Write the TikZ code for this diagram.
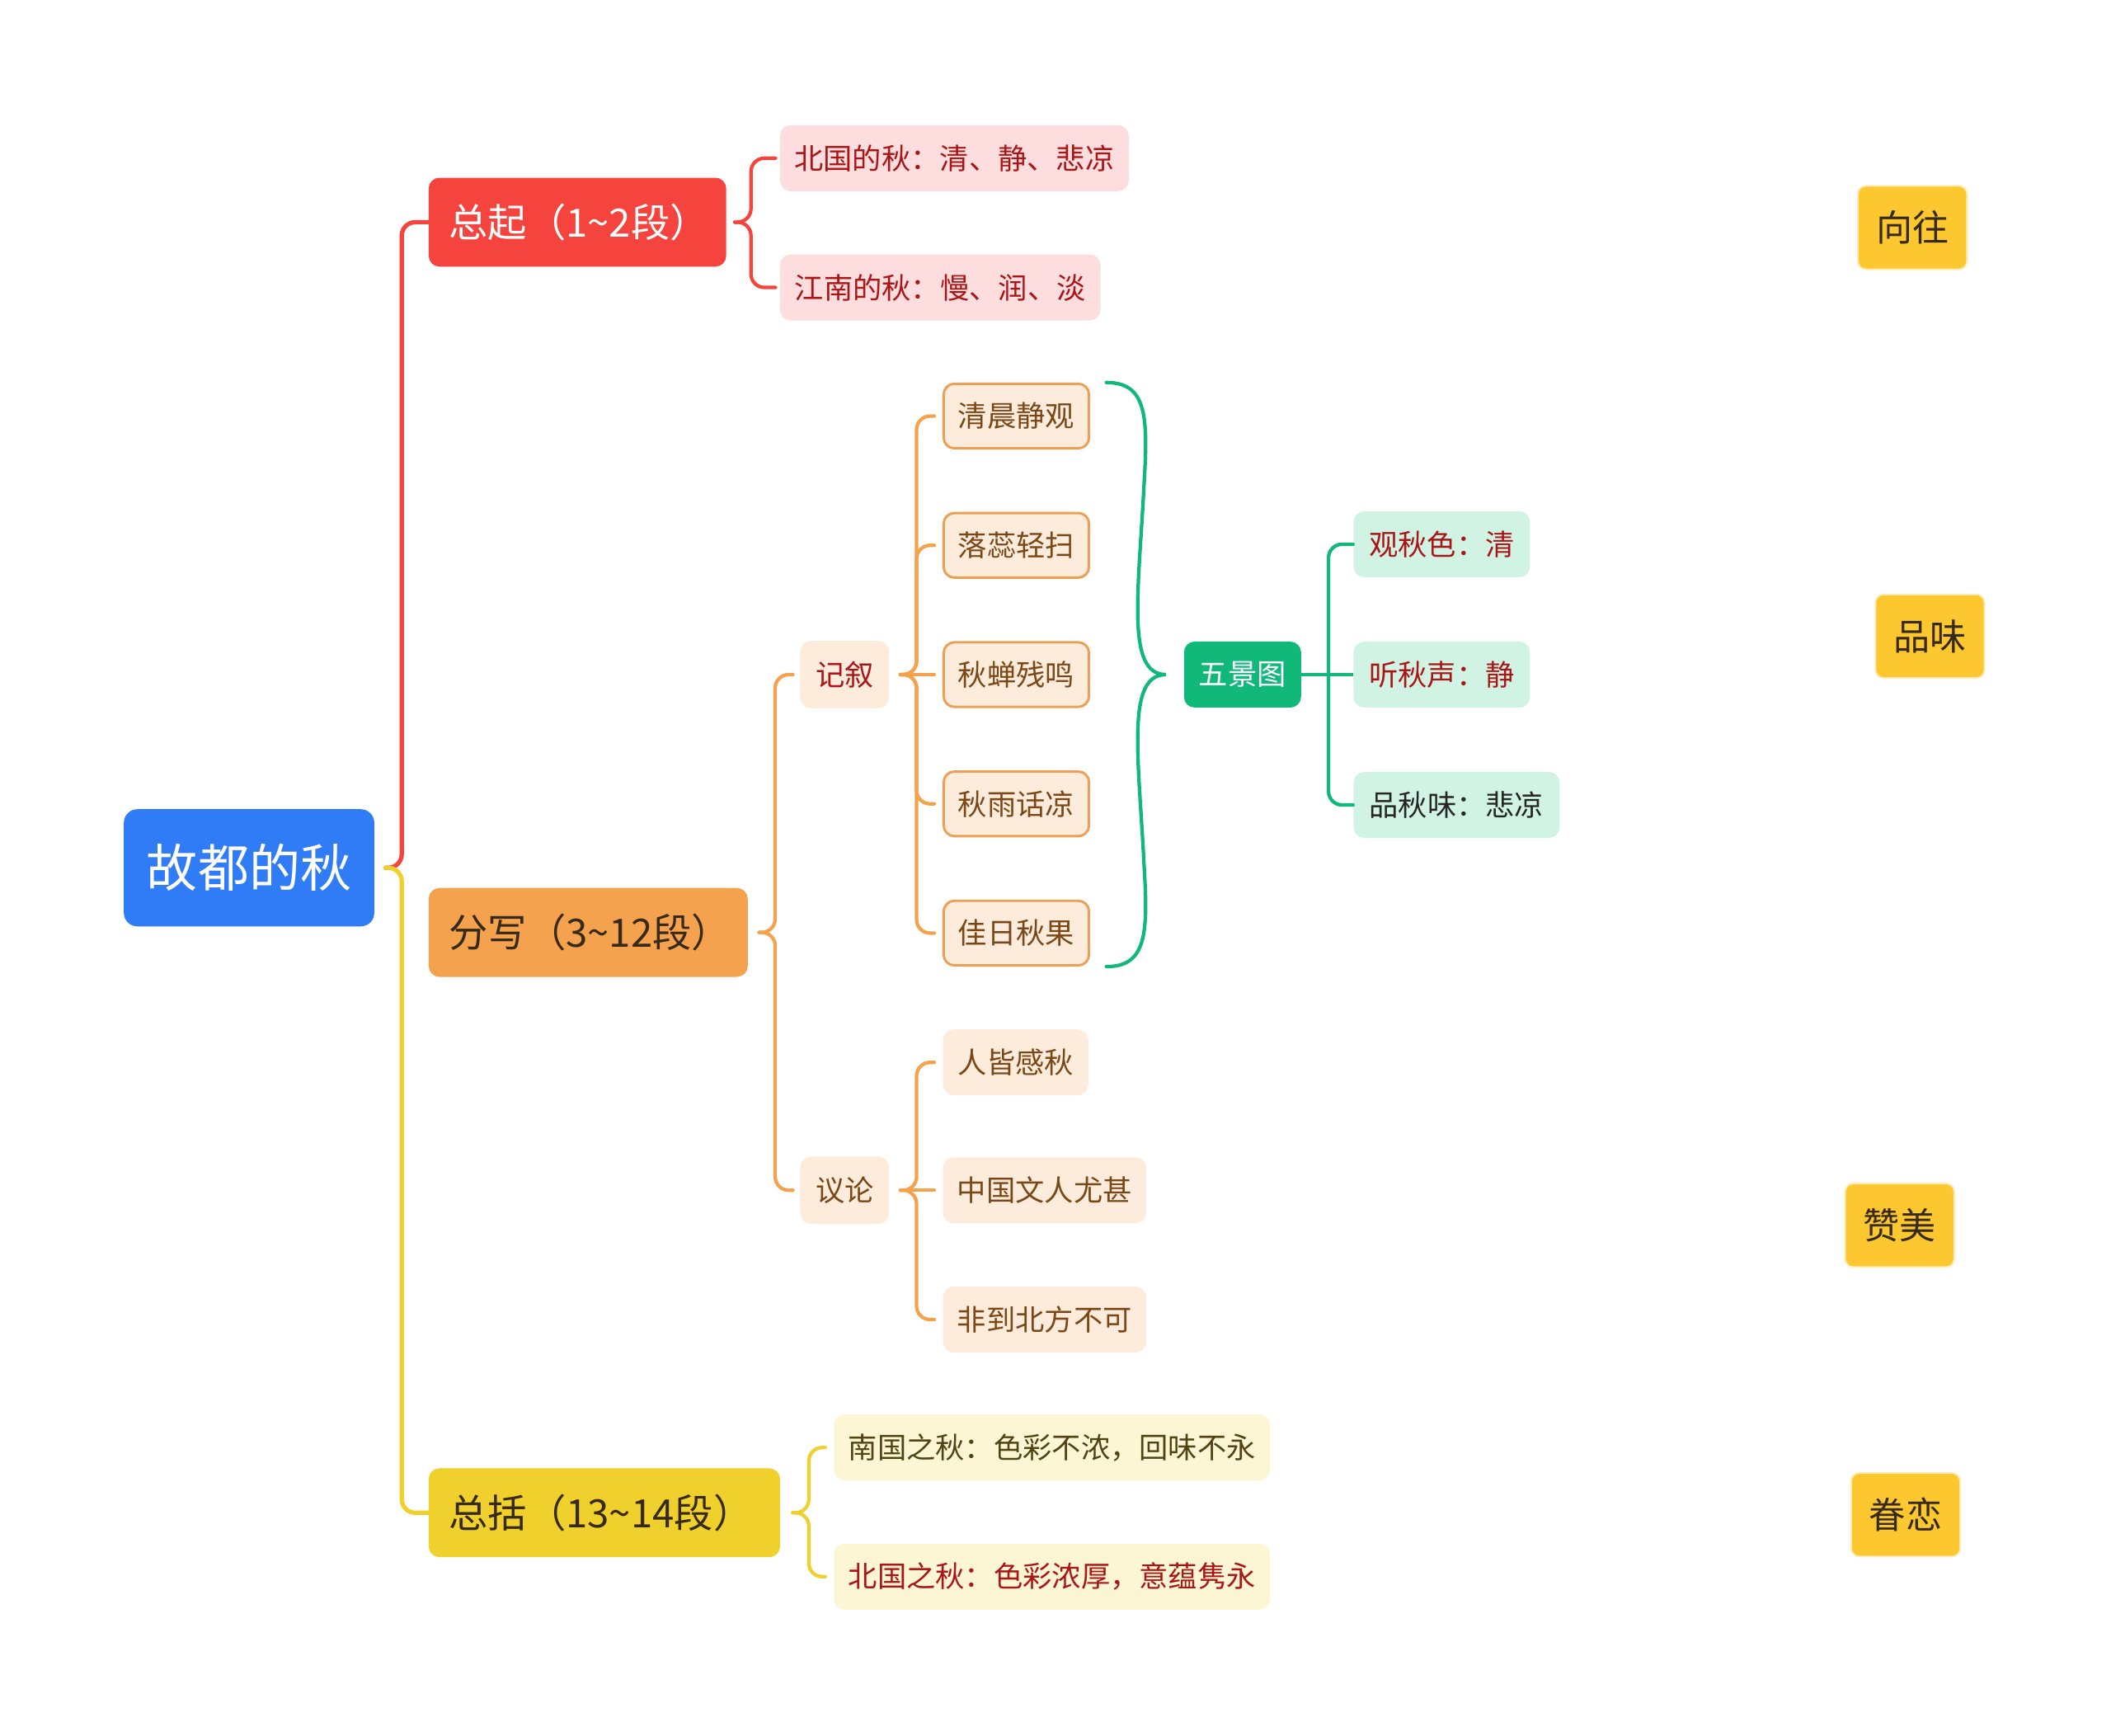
\documentclass[tikz,border=0pt]{standalone}
\usepackage{fontspec}
\setmainfont{Noto Sans CJK SC}
\usepackage{tikz}
\usetikzlibrary{positioning,calc}
\definecolor{rootcol}{RGB}{47,124,246}
\definecolor{redcol}{RGB}{245,67,61}
\definecolor{orangecol}{RGB}{245,162,79}
\definecolor{yellowcol}{RGB}{240,208,44}
\definecolor{greencol}{RGB}{16,184,122}
\definecolor{tagcol}{RGB}{252,199,47}
\definecolor{pinkfill}{RGB}{253,221,221}
\definecolor{peachfill}{RGB}{253,235,220}
\definecolor{mintfill}{RGB}{208,243,228}
\definecolor{creamfill}{RGB}{253,246,212}
\definecolor{peachline}{RGB}{236,160,85}
\definecolor{darkred}{RGB}{170,22,24}
\definecolor{browntext}{RGB}{122,72,22}
\definecolor{olivetext}{RGB}{80,68,20}
\definecolor{darktext}{RGB}{55,42,25}
\newcommand{\rootsize}{\fontsize{19}{22}\selectfont}
\newcommand{\topicsize}{\fontsize{14.5}{17}\selectfont}
\newcommand{\tagsize}{\fontsize{13.5}{16}\selectfont}
\newcommand{\leafsize}{\fontsize{10.8}{13}\selectfont}
\tikzset{
  rootbox/.style={fill=rootcol,text=white,rounded corners=5pt,minimum width=93pt,
    minimum height=43.5pt,inner sep=0pt,font=\rootsize},
  topicbox/.style={rounded corners=4pt,minimum height=33pt,inner ysep=0pt,inner xsep=7.5pt,
    align=left,font=\topicsize,anchor=west},
  leafbox/.style={rounded corners=4pt,minimum height=24.5pt,inner sep=0pt,
    font=\leafsize,anchor=west},
  scenebox/.style={leafbox,fill=peachfill,draw=peachline,line width=0.9pt,
    text=browntext,minimum width=54pt,minimum height=24pt},
  tagbox/.style={fill=tagcol,draw=tagcol!35,line width=0.6pt,rounded corners=3pt,
    minimum width=40.5pt,minimum height=31pt,inner sep=0pt,font=\tagsize,text=darktext},
  link/.style={line width=1.3pt,rounded corners=5pt,line cap=round}
}
\begin{document}
\begin{tikzpicture}[x=0.5pt,y=-0.5pt]
  \useasboundingbox (0,0) rectangle (1568,1289);
  \node[rootbox] (root) at (185,644.5) {故都的秋};
  % first branch
  \node[topicbox,fill=redcol,text=white,text width=95.5pt] (intro) at (318,165) {总起（1\textasciitilde2段）};
  \node[leafbox,fill=pinkfill,text=darkred,minimum width=129.5pt] (north) at (579,117.5) {北国的秋：清、静、悲凉};
  \node[leafbox,fill=pinkfill,text=darkred,minimum width=119pt] (south) at (579,213.5) {江南的秋：慢、润、淡};
  % second branch
  \node[topicbox,fill=orangecol,text=darktext,text width=103.5pt] (detail) at (318,692.5) {分写（3\textasciitilde12段）};
  \node[leafbox,fill=peachfill,text=darkred,minimum width=33pt,minimum height=25pt] (narr) at (594,501) {记叙};
  \node[leafbox,fill=peachfill,text=browntext,minimum width=33pt,minimum height=25pt] (disc) at (594,884) {议论};
  \node[scenebox] (s1) at (700,309) {清晨静观};
  \node[scenebox] (s2) at (700,405) {落蕊轻扫};
  \node[scenebox] (s3) at (700,501) {秋蝉残鸣};
  \node[scenebox] (s4) at (700,597) {秋雨话凉};
  \node[scenebox] (s5) at (700,693) {佳日秋果};
  \node[leafbox,fill=greencol,text=white,minimum width=43.5pt] (scenes) at (879,501) {五景图};
  \node[leafbox,fill=mintfill,text=darkred,minimum width=65.5pt] (sound) at (1005,501) {听秋声：静};
  \node[leafbox,fill=mintfill,text=darkred,minimum width=65.5pt,above=23.5pt of sound.north west,anchor=south west] (color) {观秋色：清};
  \node[leafbox,fill=mintfill,text=black!85,minimum width=76.5pt,below=23.5pt of sound.south west,anchor=north west] (taste) {品秋味：悲凉};
  \node[leafbox,fill=peachfill,text=browntext,minimum width=54pt] (d1) at (700,789) {人皆感秋};
  \node[leafbox,fill=peachfill,text=browntext,minimum width=75.5pt] (d2) at (700,884) {中国文人尤甚};
  \node[leafbox,fill=peachfill,text=browntext,minimum width=75.5pt] (d3) at (700,980) {非到北方不可};
  % third branch
  \node[topicbox,fill=yellowcol,text=darktext,text width=115.5pt] (summ) at (318,1123.5) {总括（13\textasciitilde14段）};
  \node[leafbox,fill=creamfill,text=olivetext,minimum width=162pt] (sum1) at (619,1075) {南国之秋：色彩不浓，回味不永};
  \node[leafbox,fill=creamfill,text=darkred,minimum width=162pt] (sum2) at (619,1171) {北国之秋：色彩浓厚，意蕴隽永};
  % free tags
  \node[tagbox] (yearn) at (1420.5,169) {向往};
  \node[tagbox] (savor) at (1433.5,472.5) {品味};
  \node[tagbox] (praise) at (1411,910) {赞美};
  \node[tagbox] (attach) at (1415.5,1125) {眷恋};
  % root links
  \coordinate (rj) at ($(root.east)+(8,0)$);
  \draw[link,redcol,line width=1.6pt] (rj) -- ++(12,0) |- (intro.west);
  \draw[link,yellowcol,line width=1.6pt] (rj) -- ++(12,0) |- (summ.west);
  % braces
  \coordinate (ij) at ($(intro.east)+(6,0)$);
  \draw[link,redcol] (ij) -- ++(12,0) |- ($(north.west)+(-3,0)$);
  \draw[link,redcol] (ij) -- ++(12,0) |- ($(south.west)+(-3,0)$);
  \coordinate (dj) at ($(detail.east)+(8,0)$);
  \draw[link,orangecol] (dj) -- ++(12,0) |- ($(narr.west)+(-5,0)$);
  \draw[link,orangecol] (dj) -- ++(12,0) |- ($(disc.west)+(-5,0)$);
  \coordinate (nj) at ($(narr.east)+(8,0)$);
  \draw[link,orangecol] (nj) -- ++(12,0) |- ($(s1.west)+(-6,0)$);
  \draw[link,orangecol] (nj) -- ++(12,0) |- ($(s2.west)+(-6,0)$);
  \draw[link,orangecol] (nj) -- ++(12,0) |- ($(s4.west)+(-6,0)$);
  \draw[link,orangecol] (nj) -- ++(12,0) |- ($(s5.west)+(-6,0)$);
  \draw[link,orangecol] (nj) -- ($(s3.west)+(-6,0)$);
  \coordinate (qj) at ($(disc.east)+(8,0)$);
  \draw[link,orangecol] (qj) -- ++(12,0) |- ($(d1.west)+(-6,0)$);
  \draw[link,orangecol] (qj) -- ++(12,0) |- ($(d3.west)+(-6,0)$);
  \draw[link,orangecol] (qj) -- ($(d2.west)+(-6,0)$);
  \coordinate (sj) at ($(summ.east)+(9,0)$);
  \draw[link,yellowcol] (sj) -- ++(12,0) |- ($(sum1.west)+(-6,0)$);
  \draw[link,yellowcol] (sj) -- ++(12,0) |- ($(sum2.west)+(-6,0)$);
  % five scenes brace
  \coordinate (gtop) at ($(s1.north east)+(12,0)$);
  \coordinate (gbot) at ($(s5.south east)+(12,0)$);
  \coordinate (gtip) at ($(scenes.west)+(-13,0)$);
  \draw[greencol,line width=1.3pt,line cap=round]
    (gtop) .. controls +(30,0) and +(3,-50) .. ($(gtop)+(28,75)$)
    .. controls +(-4,80) and +(-30,0) .. (gtip)
    .. controls +(-30,0) and +(-4,-80) .. ($(gbot)+(28,-75)$)
    .. controls +(3,50) and +(30,0) .. (gbot);
  \coordinate (gj) at ($(scenes.east)+(20,0)$);
  \draw[greencol,line width=1.3pt] (scenes.east) -- (sound.west);
  \draw[link,greencol] (gj) |- (color.west);
  \draw[link,greencol] (gj) |- (taste.west);
\end{tikzpicture}
\end{document}
